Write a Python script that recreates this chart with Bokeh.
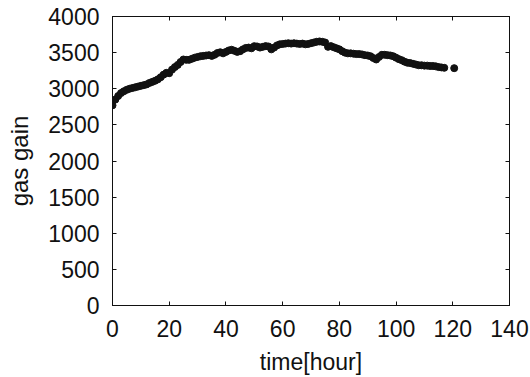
from bokeh.plotting import figure
from bokeh.models import Range1d, FixedTicker, LinearAxis
from bokeh.embed import file_html
from bokeh.resources import INLINE

# gas gain measured over elapsed time
hours = [0, 1, 2, 3, 4, 5, 6, 7, 8, 9,
         10, 11, 12, 13, 14, 15, 16, 17, 18, 19,
         20, 21, 22, 23, 24, 25, 26, 27, 28, 29,
         30, 31, 32, 33, 34, 35, 36, 37, 38, 39,
         40, 41, 42, 43, 44, 45, 46, 47, 48, 49,
         50, 51, 52, 53, 54, 55, 56, 57, 58, 59,
         60, 61, 62, 63, 64, 65, 66, 67, 68, 69,
         70, 71, 72, 73, 74, 75, 76, 77, 78, 79,
         80, 81, 82, 83, 84, 85, 86, 87, 88, 89,
         90, 91, 92, 93, 94, 95, 96, 97, 98, 99,
         100, 101, 102, 103, 104, 105, 106, 107, 108, 109,
         110, 111, 112, 113, 114, 115, 116, 117, 120.5]
gain = [2770, 2850, 2900, 2940, 2965, 2985, 3000, 3010, 3020, 3030,
        3040, 3050, 3060, 3080, 3095, 3110, 3130, 3160, 3195, 3220,
        3215, 3265, 3300, 3330, 3370, 3405, 3400, 3400, 3415, 3430,
        3440, 3450, 3455, 3460, 3465, 3455, 3470, 3495, 3505, 3490,
        3510, 3530, 3540, 3525, 3510, 3520, 3545, 3565, 3570, 3560,
        3590, 3585, 3570, 3580, 3590, 3585, 3545, 3570, 3600, 3615,
        3620, 3625, 3630, 3625, 3630, 3625, 3620, 3625, 3615, 3620,
        3630, 3640, 3650, 3655, 3650, 3640, 3580, 3590, 3575, 3560,
        3545, 3520, 3500, 3490, 3490, 3485, 3480, 3480, 3475, 3465,
        3460, 3450, 3425, 3405, 3440, 3470, 3470, 3465, 3460, 3450,
        3430, 3410, 3395, 3375, 3360, 3355, 3345, 3335, 3325, 3325,
        3320, 3320, 3315, 3315, 3310, 3300, 3295, 3290, 3285]

x_ticks = [0, 20, 40, 60, 80, 100, 120, 140]
y_ticks = [0, 500, 1000, 1500, 2000, 2500, 3000, 3500, 4000]

FONT = "Liberation Sans"
INK = "#111111"

p = figure(width=530, height=377, output_backend="svg", toolbar_location=None,
           x_range=Range1d(0, 140), y_range=Range1d(0, 4000),
           min_border_left=112, min_border_right=21,
           min_border_top=16, min_border_bottom=71,
           background_fill_color="white", border_fill_color="white")
p.grid.visible = False
p.outline_line_color = INK
p.outline_line_width = 1

p.xaxis.axis_label = "time[hour]"
p.yaxis.axis_label = "gas gain"
p.xaxis.ticker = FixedTicker(ticks=x_ticks)
p.yaxis.ticker = FixedTicker(ticks=y_ticks)

for ax in (p.xaxis[0], p.yaxis[0]):
    ax.axis_line_color = INK
    ax.major_tick_line_color = INK
    ax.major_tick_in = 4
    ax.major_tick_out = 0
    ax.minor_tick_line_color = None
    ax.major_label_text_font = FONT
    ax.major_label_text_font_size = "23px"
    ax.major_label_text_color = INK
    ax.axis_label_text_font = FONT
    ax.axis_label_text_font_size = "23px"
    ax.axis_label_text_font_style = "normal"
    ax.axis_label_text_color = INK

p.yaxis.axis_label_text_font_size = "24px"
p.xaxis.major_label_standoff = 14
p.xaxis.axis_label_standoff = 9
p.yaxis.major_label_standoff = 13
p.yaxis.axis_label_standoff = 12

# mirrored tick marks on the top and right edges, without labels
top = LinearAxis(ticker=FixedTicker(ticks=x_ticks),
                 major_label_overrides={t: "" for t in x_ticks},
                 major_label_standoff=0, major_tick_in=4, major_tick_out=0,
                 minor_tick_line_color=None, axis_line_color=INK, major_tick_line_color=INK)
right = LinearAxis(ticker=FixedTicker(ticks=y_ticks),
                   major_label_overrides={t: "" for t in y_ticks},
                   major_label_standoff=0, major_tick_in=4, major_tick_out=0,
                   minor_tick_line_color=None, axis_line_color=INK, major_tick_line_color=INK)
p.add_layout(top, "above")
p.add_layout(right, "right")

p.scatter(hours, gain, marker="circle", size=7, fill_color=INK, line_color=INK)

open("out.html", "w").write(file_html(p, INLINE))
